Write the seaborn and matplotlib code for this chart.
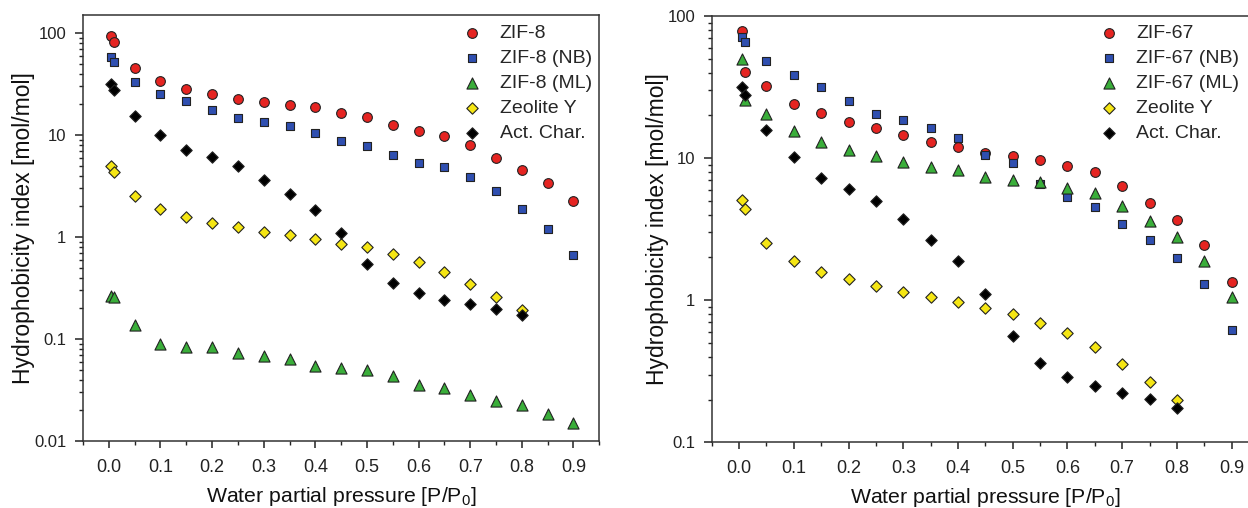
import matplotlib
matplotlib.use("Agg")
import matplotlib.pyplot as plt
import seaborn as sns
import pandas as pd
from matplotlib.ticker import MultipleLocator, LogLocator, FuncFormatter, NullFormatter

# ---------------- data ----------------
x_full = [0.005, 0.01, 0.05, 0.10, 0.15, 0.20, 0.25, 0.30, 0.35, 0.40,
          0.45, 0.50, 0.55, 0.60, 0.65, 0.70, 0.75, 0.80, 0.85, 0.90]
x_short = x_full[:18]

zif8 = [92.6, 80.8, 45.2, 34.1, 28.5, 25.4, 22.7, 21.1, 19.5, 18.7,
        16.6, 15.1, 12.4, 11.0, 9.75, 7.9, 5.97, 4.52, 3.37, 2.23]
zif8_nb = [58, 51.4, 32.7, 25.4, 21.4, 17.6, 14.8, 13.5, 12.2, 10.5,
           8.65, 7.78, 6.39, 5.37, 4.8, 3.88, 2.82, 1.9, 1.19, 0.673]
zif8_ml = [0.265, 0.26, 0.138, 0.090, 0.0835, 0.083, 0.0735, 0.068, 0.0633, 0.0547,
           0.0524, 0.0493, 0.0436, 0.0353, 0.0333, 0.0282, 0.0246, 0.0225, 0.0185, 0.0149]
zeoY_left = [4.98, 4.31, 2.5, 1.9, 1.57, 1.38, 1.25, 1.13, 1.05, 0.95,
             0.857, 0.794, 0.684, 0.574, 0.458, 0.346, 0.26, 0.192]
char_left = [31.5, 27.7, 15.5, 10.0, 7.2, 6.02, 4.98, 3.6, 2.66, 1.85,
             1.1, 0.545, 0.354, 0.282, 0.243, 0.22, 0.196, 0.171]

zif67 = [78.9, 40.5, 32.1, 24.0, 20.7, 17.9, 16.2, 14.6, 13.0, 12.0,
         10.9, 10.4, 9.7, 8.8, 8.0, 6.4, 4.85, 3.66, 2.44, 1.35]
zif67_nb = [70.8, 65.9, 48.2, 38.5, 31.8, 25.3, 20.3, 18.5, 16.2, 13.8,
            10.5, 9.2, 6.58, 5.3, 4.5, 3.43, 2.65, 1.98, 1.29, 0.62]
zif67_ml = [49.8, 25.6, 20.4, 15.4, 13.0, 11.4, 10.3, 9.44, 8.7, 8.24,
            7.4, 7.0, 6.8, 6.2, 5.7, 4.6, 3.63, 2.77, 1.89, 1.06]
zeoY_right = [5.07, 4.36, 2.54, 1.9, 1.58, 1.4, 1.26, 1.15, 1.05, 0.966,
              0.885, 0.795, 0.694, 0.585, 0.466, 0.354, 0.264, 0.199]
char_right = [31.5, 27.8, 15.8, 10.2, 7.3, 6.06, 5.0, 3.71, 2.66, 1.88,
              1.1, 0.56, 0.36, 0.286, 0.249, 0.221, 0.201, 0.173]

labels_left = ["ZIF-8", "ZIF-8 (NB)", "ZIF-8 (ML)", "Zeolite Y", "Act. Char."]
labels_right = ["ZIF-67", "ZIF-67 (NB)", "ZIF-67 (ML)", "Zeolite Y", "Act. Char."]
xtick_vals = [0.0, 0.1, 0.2, 0.3, 0.4, 0.5, 0.6, 0.7, 0.8, 0.9]

# ---------------- style ----------------
sns.set_style("ticks")
plt.rcParams["font.family"] = ["Liberation Sans", "DejaVu Sans"]
plt.rcParams["mathtext.fontset"] = "custom"
plt.rcParams["mathtext.rm"] = "Liberation Sans"
plt.rcParams["mathtext.it"] = "Liberation Sans"

colors = ["#e52421", "#2f4fb0", "#3aae3a", "#f5e614", "#000000"]
markers = ["o", "s", "^", "D", "D"]
msizes = [7.0, 6.2, 8.0, 5.8, 5.8]

fig = plt.figure(figsize=(12.48, 5.08), dpi=100)
axL = fig.add_axes([83 / 1248, (508 - 441) / 508, 516.3 / 1248, 426 / 508])
axR = fig.add_axes([711.7 / 1248, (508 - 442.3) / 508, 547.3 / 1248, 426.3 / 508])


def draw(ax, series, xs, labels, ylim, leg_anchor):
    for i, (xv, yv, lab) in enumerate(zip(xs, series, labels)):
        df = pd.DataFrame({"x": xv, "y": yv})
        sns.scatterplot(data=df, x="x", y="y", ax=ax, color=colors[i],
                        marker=markers[i], s=msizes[i] ** 2,
                        edgecolor="#222222", linewidth=0.8, label=lab,
                        zorder=3 + i)
    ax.set_yscale("log")
    ax.set_xlim(-0.05, 0.95)
    ax.set_ylim(*ylim)
    ax.set_xticks(xtick_vals)
    ax.xaxis.set_major_formatter(FuncFormatter(lambda v, p: f"{v:.1f}"))
    ax.xaxis.set_minor_locator(MultipleLocator(0.05))
    ax.yaxis.set_major_locator(LogLocator(base=10, numticks=10))
    ax.yaxis.set_minor_locator(LogLocator(base=10, subs=range(2, 10), numticks=20))
    ax.yaxis.set_major_formatter(FuncFormatter(lambda v, p: f"{v:g}"))
    ax.yaxis.set_minor_formatter(NullFormatter())
    ax.tick_params(axis="x", which="major", direction="out", length=5, width=1.1,
                   labelsize=13, pad=8, colors="#222222")
    ax.tick_params(axis="x", which="minor", direction="out", length=3, width=1.0,
                   colors="#222222")
    ax.tick_params(axis="y", which="major", direction="out", length=6, width=1.1,
                   labelsize=12, pad=6, colors="#222222")
    ax.tick_params(axis="y", which="minor", direction="out", length=3, width=1.0,
                   colors="#222222")
    ax.tick_params(labelcolor="#222222")
    for sp in ax.spines.values():
        sp.set_visible(True)
        sp.set_linewidth(1.1)
        sp.set_color("#333333")
    ax.set_xlabel("Water partial pressure [P/P$_0$]", fontsize=15.3, labelpad=6.5,
                  color="#111111")
    ax.set_ylabel("Hydrophobicity index [mol/mol]", fontsize=16.5, labelpad=-1,
                  color="#111111")
    ax.legend(loc="upper left", bbox_to_anchor=leg_anchor, borderaxespad=0,
              frameon=False, fontsize=14, handlelength=1.0, handletextpad=0.9,
              labelspacing=0.38, borderpad=0.2, markerscale=1.0)


draw(axL, [zif8, zif8_nb, zif8_ml, zeoY_left, char_left],
     [x_full, x_full, x_full, x_short, x_short], labels_left,
     (0.01, 150), (0.728, 0.988))
draw(axR, [zif67, zif67_nb, zif67_ml, zeoY_right, char_right],
     [x_full, x_full, x_full, x_short, x_short], labels_right,
     (0.1, 100), (0.701, 0.99))

fig.savefig("out.png", dpi=100)
